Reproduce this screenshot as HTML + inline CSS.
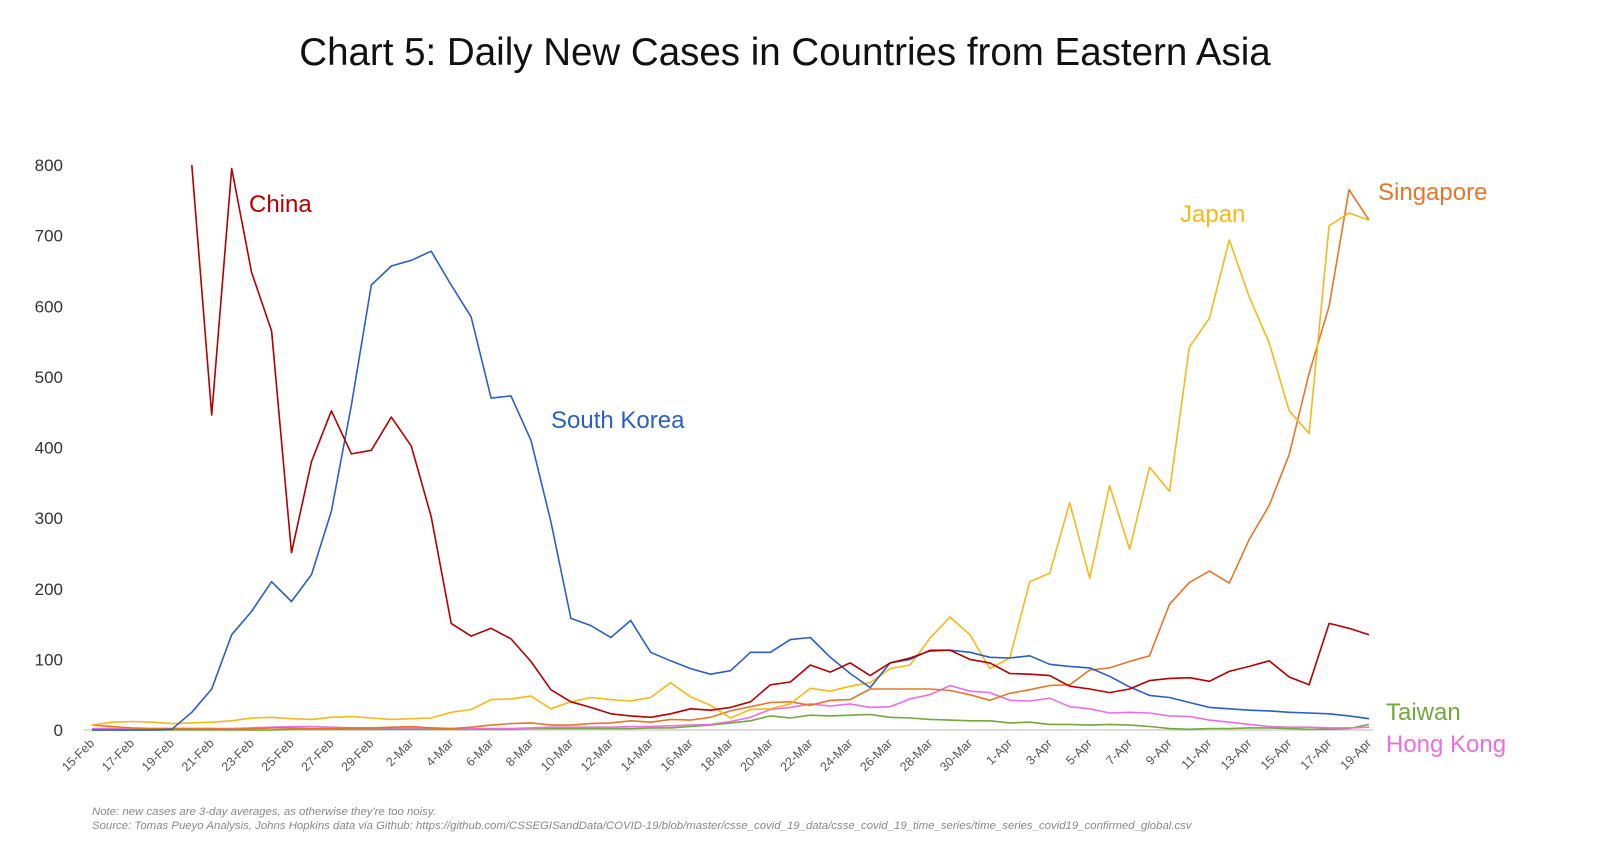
<!DOCTYPE html>
<html><head><meta charset="utf-8"><style>
body{margin:0;background:#fff;}
svg{display:block;font-family:"Liberation Sans",sans-serif;}
</style></head><body>
<svg id="chart" width="1600" height="861">
<text x="785" y="65" text-anchor="middle" font-size="38.5" fill="#111">Chart 5: Daily New Cases in Countries from Eastern Asia</text>
<g id="yaxis"></g>
<g id="xaxis"></g>
<g id="lines"></g>
<g id="labels"></g>
<text x="92" y="815" font-size="11.4" font-style="italic" fill="#888">Note: new cases are 3-day averages, as otherwise they're too noisy.</text>
<text x="92" y="829" font-size="11.4" font-style="italic" fill="#888">Source: Tomas Pueyo Analysis, Johns Hopkins data via Github: https://github.com/CSSEGISandData/COVID-19/blob/master/csse_covid_19_data/csse_covid_19_time_series/time_series_covid19_confirmed_global.csv</text>
</svg>
<script>
const yTicks=[0,100,200,300,400,500,600,700,800];
const xTickLabels=["15-Feb","17-Feb","19-Feb","21-Feb","23-Feb","25-Feb","27-Feb","29-Feb","2-Mar","4-Mar","6-Mar","8-Mar","10-Mar","12-Mar","14-Mar","16-Mar","18-Mar","20-Mar","22-Mar","24-Mar","26-Mar","28-Mar","30-Mar","1-Apr","3-Apr","5-Apr","7-Apr","9-Apr","11-Apr","13-Apr","15-Apr","17-Apr","19-Apr"];
const southKorea=[0,0,0,0,1,25,58,135,168,210,182,220,310,460,630,657,665,678,630,585,470,473,410,295,158,148,131,155,110,98,87,79,84,110,110,128,131,103,80,60,95,100,113,113,110,103,102,105,93,90,88,76,61,49,46,39,32,30,28,27,25,24,23,20,16];
const china=[null,null,null,null,null,800,446,795,648,565,251,380,452,391,396,443,402,302,151,133,144,129,97,57,40,32,23,20,18,23,30,28,32,40,64,68,92,82,95,77,95,102,112,113,100,95,80,79,77,62,58,53,58,70,73,74,69,83,90,98,75,64,151,144,135];
const japan=[7,11,12,11,9,10,11,13,17,18,16,15,18,19,17,15,16,17,25,29,43,44,48,30,40,46,43,41,46,67,47,35,17,29,30,37,59,55,62,67,87,92,130,160,135,87,102,210,222,322,215,346,256,372,338,542,583,694,613,548,452,420,714,732,722];
const singapore=[7,5,3,2,2,2,2,1,2,3,3,2,2,3,3,4,5,3,2,4,7,9,10,7,7,9,10,13,11,15,14,18,27,33,39,40,35,42,43,58,58,58,58,56,50,42,52,57,63,64,85,88,97,105,178,209,225,208,270,318,390,505,600,765,722];
const taiwan=[0,0,0,0,0,0,0,0,0,0,1,1,1,1,1,1,1,1,1,1,1,1,2,2,2,2,2,2,3,3,5,7,10,13,20,17,21,20,21,22,18,17,15,14,13,13,10,11,8,8,7,8,7,5,2,1,2,2,3,3,2,1,1,2,8];
const hongKong=[2,2,2,2,2,2,2,2,3,4,5,5,4,3,3,3,3,3,2,2,2,2,3,4,4,4,4,5,5,6,7,8,12,18,29,32,37,34,37,32,33,44,50,63,55,53,42,41,45,33,30,24,25,24,20,19,14,11,8,5,4,4,3,3,4];
const seriesNames=["Taiwan","Hong Kong","Singapore","Japan","South Korea","China"];
const seriesData=[taiwan,hongKong,singapore,japan,southKorea,china];
const seriesColors=["#72a83c","#ea6fe0","#e5762a","#f7b81a","#2b5fc3","#b30000"];
const NS="http://www.w3.org/2000/svg";
const x0=92,x1=1369,y0=730,y800=165;
const nDays=southKorea.length;
const xs=i=>x0+(x1-x0)*i/(nDays-1);
const ys=v=>y0-(y0-y800)*v/800;
function mk(tag,attrs,parent){const e=document.createElementNS(NS,tag);for(const k in attrs)e.setAttribute(k,attrs[k]);parent.appendChild(e);return e;}
const yg=document.getElementById('yaxis');
yTicks.forEach(t=>{const e=mk('text',{x:63,y:ys(t)+6,'text-anchor':'end','font-size':17,fill:'#333'},yg);e.textContent=t;

});
const xg=document.getElementById('xaxis');
const ax=mk('line',{x1:x0-8,x2:x1+4,y1:y0,y2:y0,stroke:'#d0d0d0','stroke-width':1.5},xg);


xTickLabels.forEach((l,k)=>{const x=xs(k*2)+3,y=y0+14;const e=mk('text',{x:x,y:y,'text-anchor':'end','font-size':12.5,fill:'#555',transform:`rotate(-45 ${x} ${y})`},xg);e.textContent=l;

});
const lg=document.getElementById('lines');
seriesData.forEach((d,s)=>{let p='';let pen=false;d.forEach((v,i)=>{if(v==null){pen=false;return;}p+=(pen?'L':'M')+xs(i).toFixed(1)+' '+ys(v).toFixed(1);pen=true;});
const e=mk('path',{d:p,fill:'none',stroke:seriesColors[s],'stroke-width':1.6,'stroke-linejoin':'round'},lg);

});
const labelPos=[[1386,720,0],[1386,752,1],[1378,200,2],[1180,222,3],[551,428,4],[249,212,5]];
const lb=document.getElementById('labels');
labelPos.forEach(([x,y,s])=>{const e=mk('text',{x:x,y:y,'font-size':24,fill:seriesColors[s]},lb);e.textContent=seriesNames[s];

});
</script>
</body></html>
